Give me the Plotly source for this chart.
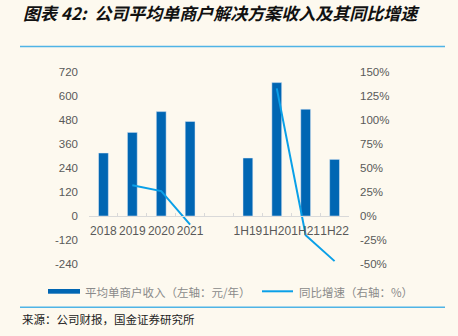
import plotly.graph_objects as go

categories = ["2018", "2019", "2020", "2021", " ", "1H19", "1H20", "1H21", "1H22"]
revenue = [315, 418, 522, 473, None, 290, 667, 534, 283]
growth = [None, 32, 26, -9, None, None, 133, -20, -47]

left_ticks = [-240, -120, 0, 120, 240, 360, 480, 600, 720]
left_labels = ["-240", "-120", "0", "120", "240", "360", "480", "600", "720"]
right_ticks = [-50, -25, 0, 25, 50, 75, 100, 125, 150]
right_labels = ["-50%", "-25%", "0%", "25%", "50%", "75%", "100%", "125%", "150%"]

title = "<b><i>图表 42:  公司平均单商户解决方案收入及其同比增速</i></b>"
legend_bar = "平均单商户收入（左轴：元/年）"
legend_line = "同比增速（右轴：%）"
source = "来源：公司财报，国金证券研究所"

BG = "#FDF9EF"
BAR = "#0066B3"
LINE = "#0AA0E8"
RULE = "#4FB4E6"
TICK = "#595959"

fig = go.Figure()
fig.add_trace(go.Bar(x=categories, y=revenue, marker_color=BAR, width=0.34,
                     yaxis="y", showlegend=False))
fig.add_trace(go.Scatter(x=categories, y=growth, mode="lines",
                         line=dict(color=LINE, width=2), connectgaps=False,
                         yaxis="y2", showlegend=False))

font_num = "Liberation Sans, Arial, sans-serif"
font_cjk = "Noto Sans CJK SC, sans-serif"

fig.update_layout(
    width=458, height=336,
    margin=dict(l=89, r=109, t=72, b=72),
    paper_bgcolor=BG, plot_bgcolor=BG,
    xaxis=dict(
        type="category", categoryorder="array", categoryarray=categories,
        anchor="free", position=0.25, tickangle=0,
        showline=True, linecolor="#D9D9D9", linewidth=1,
        ticks="inside", tickson="boundaries", ticklen=3, tickcolor="#D9D9D9",
        showgrid=False, zeroline=False,
        tickfont=dict(family=font_num, size=12, color=TICK),
        ticklabelstandoff=4,
    ),
    yaxis=dict(
        range=[-240, 720], tickvals=left_ticks, ticktext=left_labels,
        showgrid=False, zeroline=False,
        showline=False, tickfont=dict(family=font_num, size=11.5, color=TICK),
        ticklabelstandoff=10,
    ),
    yaxis2=dict(
        range=[-50, 150], tickvals=right_ticks, ticktext=right_labels, overlaying="y",
        side="right", showgrid=False, zeroline=False, showline=False,
        tickfont=dict(family=font_num, size=11.5, color=TICK),
        ticklabelstandoff=10,
    ),
    shapes=[
        dict(type="line", xref="paper", yref="paper", x0=-69/260, x1=356/260,
             y0=(336 - 72 - 46.5) / 192, y1=(336 - 72 - 46.5) / 192,
             line=dict(color=RULE, width=1.5)),
        dict(type="line", xref="paper", yref="paper", x0=-69/260, x1=356/260,
             y0=(336 - 72 - 307.3) / 192, y1=(336 - 72 - 307.3) / 192,
             line=dict(color=RULE, width=1.5)),
        dict(type="rect", xref="paper", yref="paper", x0=(48 - 89) / 260, x1=(80 - 89) / 260,
             y0=(264 - 293.7) / 192, y1=(264 - 289) / 192,
             fillcolor=BAR, line=dict(width=0)),
        dict(type="line", xref="paper", yref="paper", x0=(262 - 89) / 260, x1=(293 - 89) / 260,
             y0=(264 - 291.3) / 192, y1=(264 - 291.3) / 192,
             line=dict(color=LINE, width=2)),
    ],
    annotations=[
        dict(text=title, xref="paper", yref="paper", x=(21 - 89) / 260, y=(264 - 13) / 192,
             xanchor="left", yanchor="middle", showarrow=False,
             font=dict(family=font_cjk, size=17, color="#111111")),
        dict(text=legend_bar, xref="paper", yref="paper", x=(83 - 89) / 260, y=(264 - 291.5) / 192,
             xanchor="left", yanchor="middle", showarrow=False,
             font=dict(family=font_cjk, size=11.5, color="#8A8A8A")),
        dict(text=legend_line, xref="paper", yref="paper", x=(297 - 89) / 260, y=(264 - 291.5) / 192,
             xanchor="left", yanchor="middle", showarrow=False,
             font=dict(family=font_cjk, size=11.5, color="#8A8A8A")),
        dict(text=source, xref="paper", yref="paper", x=(20 - 89) / 260, y=(264 - 318.5) / 192,
             xanchor="left", yanchor="middle", showarrow=False,
             font=dict(family=font_cjk, size=11.5, color="#222222")),
    ],
)

fig.write_html("out.html")
